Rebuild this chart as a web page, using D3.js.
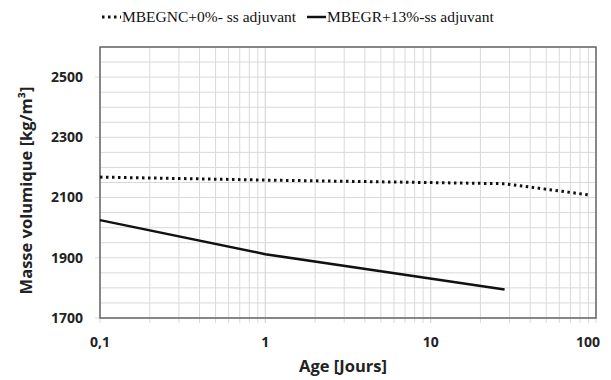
<!DOCTYPE html>
<html>
<head>
<meta charset="utf-8">
<script src="https://cdn.jsdelivr.net/npm/d3@7"></script>
<style>
  body { margin: 0; background: #fff; }
</style>
</head>
<body>
<script>
// Data
const seriesNames = ['MBEGNC+0%- ss adjuvant', 'MBEGR+13%-ss adjuvant'];
const agesNC = [0.1, 1, 28, 90];
const densNC = [2168, 2158, 2146, 2109];
const agesGR = [0.1, 1, 28];
const densGR = [2025, 1912, 1795];
const xTicks = [0.1, 1, 10, 100];
const xTickLabels = ['0,1', '1', '10', '100'];
const yTicks = [1700, 1900, 2100, 2300, 2500];

const width = 611;
const height = 380;
const margin = { top: 47, right: 15, bottom: 62, left: 100 };

const svg = d3.select('body')
    .append('svg')
    .attr('width', width)
    .attr('height', height);

const xScale = d3.scaleLog()
    .domain([0.1, 100])
    .range([margin.left, width - margin.right]);

const yScale = d3.scaleLinear()
    .domain([1700, 2600])
    .range([height - margin.bottom, margin.top]);

// minor vertical gridlines (2..9 in each decade)
const xMinor = [];
[0.1, 1, 10].forEach(d => {
    for (let k = 1; k <= 10; k++) xMinor.push(+(d * k).toPrecision(3));
});
svg.append('g')
    .selectAll('line')
    .data(xMinor)
    .enter()
    .append('line')
    .attr('x1', d => xScale(d))
    .attr('x2', d => xScale(d))
    .attr('y1', margin.top)
    .attr('y2', height - margin.bottom + 5)
    .attr('stroke', '#d9d9d9')
    .attr('stroke-width', 1);

// horizontal gridlines every 50
const yGrid = d3.range(1700, 2601, 50);
svg.append('g')
    .selectAll('line')
    .data(yGrid)
    .enter()
    .append('line')
    .attr('x1', d => yTicks.includes(d) ? margin.left - 5 : margin.left)
    .attr('x2', width - margin.right)
    .attr('y1', d => yScale(d))
    .attr('y2', d => yScale(d))
    .attr('stroke', '#d9d9d9')
    .attr('stroke-width', 1);

// plot border
svg.append('rect')
    .attr('x', margin.left)
    .attr('y', margin.top)
    .attr('width', width - margin.right - margin.left)
    .attr('height', height - margin.bottom - margin.top)
    .attr('fill', 'none')
    .attr('stroke', '#666')
    .attr('stroke-width', 1.5);

// y tick labels
svg.append('g')
    .selectAll('text')
    .data(yTicks)
    .enter()
    .append('text')
    .attr('x', margin.left - 17)
    .attr('y', d => yScale(d))
    .attr('dy', '0.35em')
    .attr('text-anchor', 'end')
    .attr('font-family', 'Open Sans, sans-serif')
    .attr('font-weight', 'bold')
    .attr('font-size', 14)
    .attr('fill', '#222')
    .text(d => d);

// x tick labels
svg.append('g')
    .selectAll('text')
    .data(xTicks)
    .enter()
    .append('text')
    .attr('x', (d, i) => xScale(d) - (i === 3 ? 8 : 0))
    .attr('y', height - margin.bottom + 29)
    .attr('text-anchor', 'middle')
    .attr('font-family', 'Open Sans, sans-serif')
    .attr('font-weight', 'bold')
    .attr('font-size', 14)
    .attr('fill', '#222')
    .text((d, i) => xTickLabels[i]);

// axis titles
svg.append('text')
    .attr('x', (margin.left + width - margin.right) / 2 - 5)
    .attr('y', height - 8)
    .attr('text-anchor', 'middle')
    .attr('font-family', 'Open Sans, sans-serif')
    .attr('font-weight', 'bold')
    .attr('font-size', 16.5)
    .attr('fill', '#222')
    .text('Age [Jours]');

svg.append('text')
    .attr('transform', 'rotate(-90)')
    .attr('x', -(margin.top + height - margin.bottom) / 2 - 8)
    .attr('y', 26)
    .attr('dy', '0.35em')
    .attr('text-anchor', 'middle')
    .attr('font-family', 'Open Sans, sans-serif')
    .attr('font-weight', 'bold')
    .attr('font-size', 16.5)
    .attr('fill', '#222')
    .text('Masse volumique [kg/m³]');

// lines
const line = d3.line()
    .x(d => xScale(d[0]))
    .y(d => yScale(d[1]));

svg.append('path')
    .datum(d3.zip(agesNC, densNC))
    .attr('d', line)
    .attr('fill', 'none')
    .attr('stroke', '#111')
    .attr('stroke-width', 3)
    .attr('stroke-dasharray', '2.5 3.5');

svg.append('path')
    .datum(d3.zip(agesGR, densGR))
    .attr('d', line)
    .attr('fill', 'none')
    .attr('stroke', '#111')
    .attr('stroke-width', 2.5);

// legend
const legend = [
    { x: 102, dash: '2.5 3.5', w: 3, name: seriesNames[0] },
    { x: 307, dash: null, w: 2.5, name: seriesNames[1] }
];
legend.forEach(l => {
    svg.append('line')
        .attr('x1', l.x)
        .attr('x2', l.x + 19)
        .attr('y1', 17)
        .attr('y2', 17)
        .attr('stroke', '#111')
        .attr('stroke-width', l.w)
        .attr('stroke-dasharray', l.dash);
    svg.append('text')
        .attr('x', l.x + 20)
        .attr('y', 17)
        .attr('dy', '0.35em')
        .attr('font-family', 'Liberation Serif, serif')
        .attr('font-size', 15.5)
        .attr('fill', '#111')
        .text(l.name);
});
</script>
</body>
</html>
